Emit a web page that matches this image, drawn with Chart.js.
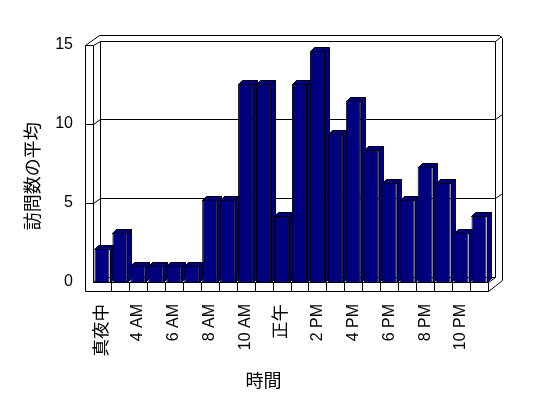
<!DOCTYPE html>
<html>
<head>
<meta charset="utf-8">
<script src="https://cdn.jsdelivr.net/npm/chart.js@4.4.1/dist/chart.umd.min.js"></script>
<style>
  html, body { margin: 0; padding: 0; background: #fff; }
  canvas { display: block; }
</style>
</head>
<body>
<canvas id="c" width="548" height="398"></canvas>
<script>
// categories (hours) - only every other label is shown, like the original
const hours = ['真夜中', '1 AM', '4 AM', '5 AM', '6 AM', '7 AM', '8 AM', '9 AM', '10 AM', '11 AM', '正午',
  '1 PM', '2 PM', '3 PM', '4 PM', '5 PM', '6 PM', '7 PM', '8 PM', '9 PM', '10 PM', '11 PM'];
// average visits per hour
const visits = [2, 3, 1, 1, 1, 1, 5, 5, 12, 12, 4, 12, 14, 9, 11, 8, 6, 5, 7, 6, 3, 4];
const yTicks = [0, 5, 10, 15];

const navy = '#000080';
const latin = '"Liberation Sans", "Noto Sans CJK JP", sans-serif';

// pixel snap for crisp 1px lines
const p = v => Math.round(v) + 0.5;

// draws the 3D box (walls, floor) and the top / side faces of the columns
const box3d = {
  id: 'box3d',
  beforeDatasetsDraw(chart) {
    const { ctx, chartArea: ca, scales } = chart;
    const yl = scales.yl, x = scales.x;
    const L = ca.left, R = ca.right, B = ca.bottom;
    const T = yl.getPixelForValue(15);
    const bt = T - 4; // top of back wall
    const line = (pts) => {
      ctx.beginPath();
      ctx.moveTo(p(pts[0][0]), p(pts[0][1]));
      for (let i = 1; i < pts.length; i++) ctx.lineTo(p(pts[i][0]), p(pts[i][1]));
      ctx.stroke();
    };
    ctx.save();
    ctx.lineWidth = 1;
    ctx.strokeStyle = '#000';
    ctx.fillStyle = '#fff';
    // outline
    ctx.beginPath();
    const outl = [[L - 8, T], [L + 6, ca.top], [R + 11, ca.top], [R + 14, ca.top + 3],
      [R + 14, B - 2], [R, B + 9], [L - 8, B + 9]];
    ctx.moveTo(p(outl[0][0]), p(outl[0][1]));
    outl.slice(1).forEach(q => ctx.lineTo(p(q[0]), p(q[1])));
    ctx.closePath();
    ctx.fill();
    ctx.stroke();
    // left wall
    line([[L - 8, T], [L, T], [L + 7, bt]]);
    line([[L, T], [L, B]]);
    // back wall
    line([[L + 7, B - 5], [L + 7, bt], [R + 7, bt], [R + 7, B - 5]]);
    line([[R + 7, bt], [R + 13, ca.top + 1]]);
    // gridlines
    yTicks.slice(1, -1).forEach(v => {
      const y = yl.getPixelForValue(v);
      line([[L - 8, y], [L, y], [L + 7, y - 5], [R + 7, y - 5], [R + 14, y - 10]]);
    });
    // floor
    line([[L, B], [L + 7, B - 5], [R + 7, B - 5], [R, B]]);
    line([[L, B], [R, B], [R, B + 9]]);
    for (let k = 1; k < hours.length; k++) {
      const xx = (x.getPixelForValue(k - 1) + x.getPixelForValue(k)) / 2;
      line([[xx, B], [xx, B + 9]]);
    }
    // column tops and sides
    const d = 4;
    ctx.fillStyle = navy;
    chart.getDatasetMeta(0).data.forEach(el => {
      const l = el.x - el.width / 2, r = el.x + el.width / 2, t = el.y, b = el.base;
      ctx.beginPath();
      ctx.moveTo(p(l), p(t));
      ctx.lineTo(p(l + d), p(t - d));
      ctx.lineTo(p(r + d), p(t - d));
      ctx.lineTo(p(r + d), p(b - d));
      ctx.lineTo(p(r), p(b));
      ctx.lineTo(p(r), p(t));
      ctx.closePath();
      ctx.fill();
      ctx.stroke();
      line([[r, t], [r + d, t - d]]);
    });
    ctx.restore();
  }
};

new Chart(document.getElementById('c'), {
  type: 'bar',
  data: {
    labels: hours,
    datasets: [{
      data: visits,
      yAxisID: 'y',
      backgroundColor: navy,
      borderColor: '#000',
      borderWidth: 1,
      barPercentage: 1,
      categoryPercentage: 0.84
    }]
  },
  options: {
    responsive: false,
    animation: false,
    layout: { padding: { top: 34.5, right: 60, left: 0, bottom: 0 } },
    plugins: { legend: { display: false }, tooltip: { enabled: false } },
    scales: {
      x: {
        grid: { display: false, drawTicks: false },
        border: { display: false },
        ticks: {
          autoSkip: false, minRotation: 90, maxRotation: 90, padding: 22,
          color: '#000',
          // CJK labels a little larger, as in the original
          font: c => ({ family: latin, size: /[^\x00-\x7f]/.test(hours[c.index] || '') ? 17.5 : 16 }),
          callback: (v, i) => (i % 2 === 0 ? hours[i] : '')
        },
        title: {
          display: true, text: '時間　　　', color: '#000',
          font: { family: '"Noto Sans CJK JP", sans-serif', size: 18 },
          padding: { top: 0, bottom: 7 }
        },
        afterFit: s => { s.height = 116; }
      },
      yl: {
        position: 'left', min: 0, max: 15.665,
        grid: { display: false, drawTicks: false },
        border: { display: false },
        ticks: {
          stepSize: 5, includeBounds: false, padding: 20,
          color: '#000', font: { family: latin, size: 16 }
        },
        title: {
          display: true, text: '訪問数の平均　　', color: '#000',
          font: { family: '"Noto Sans CJK JP", sans-serif', size: 18 },
          padding: { top: 21, bottom: 0 }
        },
        afterFit: s => { s.width = 93; }
      },
      y: { display: false, min: 0, max: 15 }
    }
  },
  plugins: [box3d]
});
</script>
</body>
</html>
